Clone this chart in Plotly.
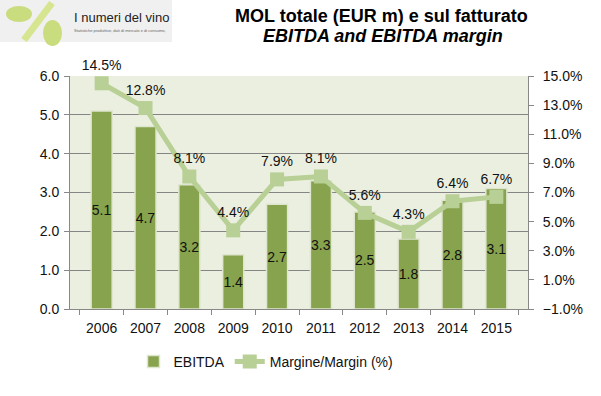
import plotly.graph_objects as go

years = ["2006", "2007", "2008", "2009", "2010", "2011", "2012", "2013", "2014", "2015"]
ebitda = [5.1, 4.7, 3.2, 1.4, 2.7, 3.3, 2.5, 1.8, 2.8, 3.1]
margin = [14.5, 12.8, 8.1, 4.4, 7.9, 8.1, 5.6, 4.3, 6.4, 6.7]

FONT = "Liberation Sans, Arial, sans-serif"
W, H = 601, 396
# plot area in pixels: x 70..528, y 76..309
ML, MT = 70, 76
MR, MB = W - 528, H - 309
PW, PH = W - ML - MR, H - MT - MB


def P(sx, sy):
    """pixel -> paper coords"""
    return (sx - ML) / PW, (H - MB - sy) / PH


fig = go.Figure()
fig.add_trace(go.Bar(
    x=years, y=ebitda, name="EBITDA",
    marker=dict(color="#87a34d", line=dict(color="#dfe6cf", width=1.5)),
    width=0.48,
    text=[f"{v:.1f}" for v in ebitda], textposition="inside", textangle=0,
    insidetextanchor="middle", constraintext="none",
    textfont=dict(color="#111111", size=14, family=FONT),
))
fig.add_trace(go.Scatter(
    x=years, y=margin, name="Margine/Margin (%)", yaxis="y2",
    mode="lines+markers+text",
    line=dict(color="#b8cf95", width=5),
    marker=dict(symbol="square", size=14, color="#b8cf95"),
    text=[f"{v:.1f}%" for v in margin], textposition="top center",
    textfont=dict(color="#111111", size=14, family=FONT),
    cliponaxis=False,
))

annotations = []
x, y = P(381, 16)
annotations.append(dict(text="<b>MOL totale (EUR m) e sul fatturato</b>", x=x, y=y,
                        xanchor="center", yanchor="middle",
                        xref="paper", yref="paper", showarrow=False,
                        font=dict(size=18, family=FONT, color="#000000")))
x, y = P(383, 36)
annotations.append(dict(text="<b><i>EBITDA and EBITDA margin</i></b>", x=x, y=y,
                        xanchor="center", yanchor="middle",
                        xref="paper", yref="paper", showarrow=False,
                        font=dict(size=18, family=FONT, color="#000000")))
x, y = P(72, 17)
annotations.append(dict(text="I numeri del vino", x=x, y=y, xanchor="left", yanchor="middle",
                        xref="paper", yref="paper", showarrow=False,
                        font=dict(size=13, family=FONT, color="#222222")))
x, y = P(72, 30)
annotations.append(dict(text="Statistiche produttive, dati di mercato e di consumo,", x=x, y=y,
                        xanchor="left", yanchor="middle", xref="paper", yref="paper",
                        showarrow=False, font=dict(size=4, family=FONT, color="#666666")))

shapes = []
x0, y0 = P(0, 0); x1, y1 = P(172, 42)
shapes.append(dict(type="rect", xref="paper", yref="paper", x0=x0, x1=x1, y0=y1, y1=y0,
                   fillcolor="#f0f0f0", line=dict(width=0), layer="below"))
ax, ay = P(24, 40); bx, by = P(52, 3)
shapes.append(dict(type="line", xref="paper", yref="paper", x0=ax, x1=bx, y0=ay, y1=by,
                   line=dict(color="#d6e58f", width=7)))
cx0, cy0 = P(6, 6); cx1, cy1 = P(32, 22)
shapes.append(dict(type="circle", xref="paper", yref="paper", x0=cx0, x1=cx1, y0=cy1, y1=cy0,
                   fillcolor="#c9dc7e", line=dict(width=0)))
cx0, cy0 = P(43, 20); cx1, cy1 = P(62, 46)
shapes.append(dict(type="circle", xref="paper", yref="paper", x0=cx0, x1=cx1, y0=cy1, y1=cy0,
                   fillcolor="#c9dc7e", line=dict(width=0)))

lx, ly = P(266, 346)

fig.update_layout(
    width=W, height=H,
    margin=dict(l=ML, r=MR, t=MT, b=MB, autoexpand=False),
    paper_bgcolor="white", plot_bgcolor="#ebefe0",
    font=dict(family=FONT, size=14, color="#111111"),
    showlegend=True,
    legend=dict(orientation="h", x=lx, xanchor="center", y=ly, yanchor="top",
                font=dict(size=14, family=FONT), itemwidth=30, tracegroupgap=0),
    xaxis=dict(type="category", showline=True, linecolor="#888888",
               ticks="outside", tickson="boundaries", ticklen=5, tickcolor="#888888",
               showgrid=False, tickfont=dict(size=14), ticklabelstandoff=6),
    yaxis=dict(range=[0, 6], dtick=1, tickformat=".1f", showline=True,
               linecolor="#888888", gridcolor="#858585", gridwidth=1,
               ticks="outside", ticklen=5, tickcolor="#888888", zeroline=False,
               tickfont=dict(size=14), ticklabelstandoff=2),
    yaxis2=dict(range=[-1, 15], dtick=2, tick0=-1, tickformat=".1f", ticksuffix="%",
                overlaying="y", side="right", showline=True, linecolor="#888888",
                showgrid=False, ticks="outside", ticklen=5, tickcolor="#888888",
                zeroline=False, tickfont=dict(size=14), ticklabelstandoff=6),
    annotations=annotations,
    shapes=shapes,
)

fig.write_html("out.html", config={"displayModeBar": False},
               post_script="document.body.style.margin='0px';")
